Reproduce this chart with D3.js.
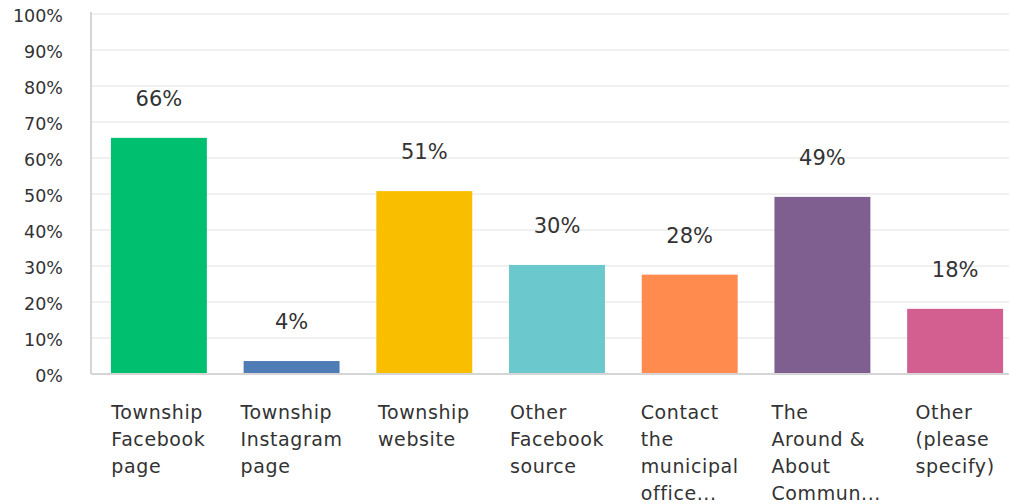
<!DOCTYPE html>
<html>
<head>
<meta charset="utf-8">
<script src="https://d3js.org/d3.v7.min.js"></script>
<style>
  body { margin: 0; background: #fff; }
  svg { display: block; }
  text { font-family: "DejaVu Sans", sans-serif; fill: #333; }
</style>
</head>
<body>
<div id="chart"></div>
<script>
// Chart data
const categories = [
    ['Township', 'Facebook', 'page'],
    ['Township', 'Instagram', 'page'],
    ['Township', 'website'],
    ['Other', 'Facebook', 'source'],
    ['Contact', 'the', 'municipal', 'office...'],
    ['The', 'Around &', 'About', 'Commun...'],
    ['Other', '(please', 'specify)']
];
const values = [65.6, 3.6, 50.8, 30.3, 27.6, 49.2, 18.1];
const colors = ['#00bf6f', '#507cb6', '#f9be00', '#6bc8cd', '#ff8b4f', '#7f5f90', '#d25f90'];
const yTicks = [0, 10, 20, 30, 40, 50, 60, 70, 80, 90, 100];

const width = 1009, height = 504;
const plotLeft = 91, plotTop = 14, plotBottom = 374;

const svg = d3.select('#chart').append('svg')
    .attr('width', width)
    .attr('height', height);

const y = d3.scaleLinear().domain([0, 100]).range([plotBottom, plotTop]);
const x = d3.scaleBand()
    .domain(d3.range(categories.length))
    .range([plotLeft, 1023])
    .paddingInner(0.277)
    .paddingOuter(0.15);

// Gridlines
svg.append('g')
    .selectAll('line')
    .data(yTicks.filter(t => t > 0))
    .enter().append('line')
    .attr('x1', plotLeft).attr('x2', width)
    .attr('y1', d => y(d)).attr('y2', d => y(d))
    .attr('stroke', '#ebebeb')
    .attr('stroke-width', 1.5);

// Y tick labels
svg.append('g')
    .selectAll('text')
    .data(yTicks)
    .enter().append('text')
    .attr('x', 63)
    .attr('y', d => y(d) + 7.5)
    .attr('text-anchor', 'end')
    .style('font-size', '17.5px')
    .text(d => d + '%');

// Bars
svg.append('g')
    .selectAll('rect')
    .data(values)
    .enter().append('rect')
    .attr('x', (d, i) => x(i))
    .attr('width', x.bandwidth())
    .attr('y', d => y(d))
    .attr('height', d => plotBottom - y(d))
    .attr('fill', (d, i) => colors[i]);

// Axis lines
svg.append('line')
    .attr('x1', plotLeft).attr('x2', plotLeft)
    .attr('y1', plotTop - 2).attr('y2', plotBottom)
    .attr('stroke', '#d5d5d5').attr('stroke-width', 2);
svg.append('line')
    .attr('x1', plotLeft).attr('x2', width)
    .attr('y1', plotBottom).attr('y2', plotBottom)
    .attr('stroke', '#d5d5d5').attr('stroke-width', 2);

// Value labels
svg.append('g')
    .selectAll('text')
    .data(values)
    .enter().append('text')
    .attr('x', (d, i) => x(i) + x.bandwidth() / 2)
    .attr('y', d => y(d) - 32)
    .attr('text-anchor', 'middle')
    .style('font-size', '21px')
    .text(d => Math.round(d) + '%');

// Category labels: left aligned, block centred under the bar
const cat = svg.append('g')
    .selectAll('text')
    .data(categories)
    .enter().append('text')
    .attr('x', 0)
    .attr('y', 419)
    .style('font-size', '19px')
    .style('letter-spacing', '0.6px');

cat.selectAll('tspan')
    .data(d => d)
    .enter().append('tspan')
    .attr('x', 0)
    .attr('dy', (d, i) => i === 0 ? 0 : 27)
    .text(d => d);

cat.each(function(d, i) {
    const w = this.getBBox().width;
    const cx = x(i) + x.bandwidth() / 2;
    d3.select(this).attr('transform', `translate(${Math.max(x(i) - 3, cx - w / 2)},0)`);
});
</script>
</body>
</html>
